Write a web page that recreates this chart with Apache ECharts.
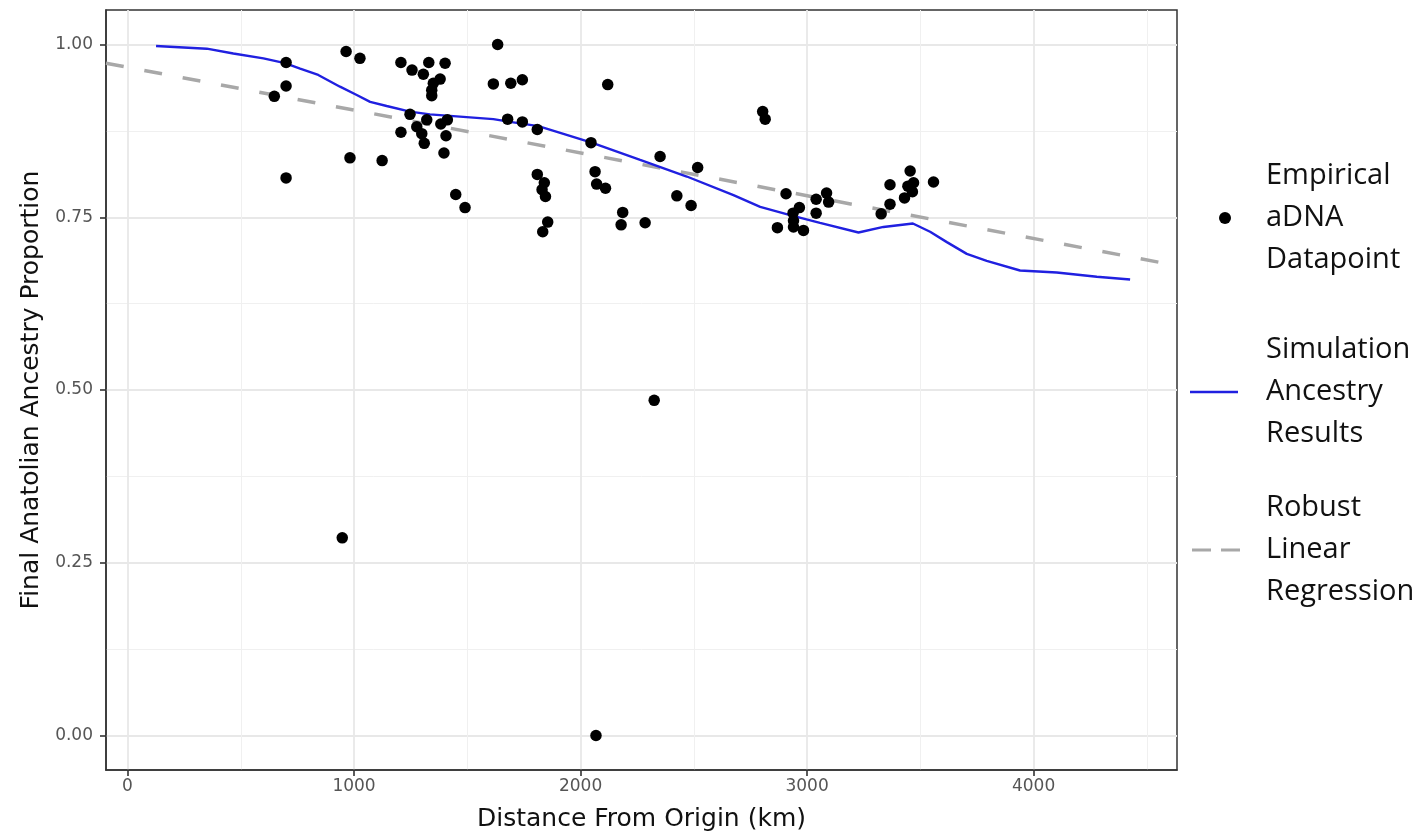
<!DOCTYPE html>
<html>
<head>
<meta charset="utf-8">
<script src="https://cdn.jsdelivr.net/npm/echarts@6/dist/echarts.min.js"></script>
<style>
html,body{margin:0;padding:0;background:#fff;}
#chart{width:1418px;height:831px;}
</style>
</head>
<body>
<div id="chart"></div>
<script>
// ---- data ----
const pointX = [648,700,700,700,948,965,982,1026,1124,1207,1207,1247,1256,1277,1299,1306,1310,1321,1330,1350,1343,1343,1380,1383,1402,1412,1406,1397,1449,1490,1615,1634,1678,1692,1743,1743,1809,1809,1840,1830,1845,1855,1833,2046,2064,2071,2110,2120,2068,2179,2186,2285,2325,2351,2425,2488,2517,2804,2815,2869,2907,2938,2940,2940,2966,2984,3040,3040,3086,3095,3327,3366,3366,3430,3455,3445,3470,3465,3558];
const pointY = [0.925,0.974,0.940,0.807,0.286,0.990,0.836,0.980,0.832,0.974,0.873,0.899,0.963,0.881,0.871,0.957,0.857,0.891,0.974,0.944,0.934,0.926,0.950,0.885,0.973,0.891,0.868,0.843,0.783,0.764,0.943,1.000,0.892,0.944,0.949,0.888,0.877,0.812,0.800,0.790,0.780,0.743,0.729,0.858,0.816,0.798,0.792,0.942,0.000,0.739,0.757,0.742,0.485,0.838,0.781,0.767,0.822,0.903,0.892,0.735,0.784,0.756,0.745,0.736,0.764,0.731,0.776,0.756,0.785,0.772,0.755,0.797,0.769,0.778,0.817,0.795,0.800,0.787,0.801];

const simX = [126,350,467,600,695,762,842,938,1012,1071,1144,1247,1335,1497,1615,1689,1814,2049,2263,2469,2675,2793,2925,3057,3227,3337,3467,3543,3617,3705,3793,3940,4102,4279,4426];
const simY = [0.998,0.994,0.987,0.980,0.973,0.965,0.956,0.939,0.927,0.917,0.911,0.903,0.899,0.895,0.892,0.888,0.882,0.858,0.833,0.809,0.782,0.765,0.753,0.742,0.728,0.736,0.741,0.729,0.714,0.697,0.687,0.673,0.670,0.664,0.660];

const regX = [-95, 4633];
const regY = [0.973, 0.680];

const xMajor = [0,1000,2000,3000,4000];
const xMinor = [500,1500,2500,3500,4500];
const yMajor = [0,0.25,0.5,0.75,1];
const yMinor = [0.125,0.375,0.625,0.875];

const xLimits = [-95, 4633];
const yLimits = [-0.05, 1.05];

const names = ['Empirical\naDNA\nDatapoint','Simulation\nAncestry\nResults','Robust\nLinear\nRegression'];
// --------------------------------------

const zip = (a,b) => a.map((v,i)=>[v,b[i]]);
const chart = echarts.init(document.getElementById('chart'), null, {renderer:'canvas'});
const tickFont = {color:'#555', fontSize:17, fontFamily:'DejaVu Sans'};
const titleFont = {color:'#111', fontSize:25, fontFamily:'DejaVu Sans'};
const majorLine = {show:true, lineStyle:{color:'#e8e8e8', width:1.8}};
const minorLine = {show:true, lineStyle:{color:'#f0f0f0', width:1}};
const legendText = {fontFamily:'Open Sans', fontSize:29, color:'#111', lineHeight:42};
const tickLine = {color:'#333', width:1.6};
const axLine = {show:true, onZero:false, lineStyle:{color:'#333', width:1.5}};

chart.setOption({
  animation:false,
  backgroundColor:'#fff',
  grid:{left:106, right:241, top:10, bottom:61, show:true, borderColor:'#333', borderWidth:1.5, backgroundColor:'transparent',
        containLabel:false, outerBoundsMode:'none'},
  xAxis:[
    {type:'value', min:xLimits[0], max:xLimits[1], position:'bottom',
     name:'Distance From Origin (km)', nameLocation:'middle', nameGap:37, nameTextStyle:titleFont,
     axisLine:axLine, axisTick:{show:true, inside:false, length:6, customValues:xMajor, lineStyle:tickLine},
     axisLabel:{customValues:xMajor, margin:8, formatter:v=>String(v), ...tickFont}, splitLine:majorLine},
    {type:'value', min:xLimits[0], max:xLimits[1], position:'bottom',
     axisLine:{show:false, onZero:false}, axisTick:{show:false, customValues:xMinor}, axisLabel:{show:false, customValues:xMinor}, splitLine:minorLine}
  ],
  yAxis:[
    {type:'value', min:yLimits[0], max:yLimits[1], position:'left',
     name:'Final Anatolian Ancestry Proportion', nameLocation:'middle', nameGap:61, nameTextStyle:titleFont,
     axisLine:axLine, axisTick:{show:true, inside:false, length:6, customValues:yMajor, lineStyle:tickLine},
     axisLabel:{customValues:yMajor, margin:13, formatter:v=>v.toFixed(2), ...tickFont}, splitLine:majorLine},
    {type:'value', min:yLimits[0], max:yLimits[1], position:'left',
     axisLine:{show:false, onZero:false}, axisTick:{show:false, customValues:yMinor}, axisLabel:{show:false, customValues:yMinor}, splitLine:minorLine}
  ],
  legend:[
    {data:[names[0]], orient:'vertical', left:1219, top:155, padding:0, itemWidth:12, itemHeight:12, icon:'circle',
     itemStyle:{color:'#000'}, textStyle:{...legendText, padding:[0,0,0,30]}},
    {data:[names[1]], orient:'vertical', left:1190, top:329, padding:0, itemWidth:48, itemHeight:2.5,
     icon:'path://M0,0h48v2.5h-48z', itemStyle:{color:'#2020e0'}, textStyle:{...legendText, padding:[0,0,0,23]}},
    {data:[names[2]], orient:'vertical', left:1192, top:487, padding:0, itemWidth:48, itemHeight:3,
     icon:'path://M0,0h19v3h-19zM29,0h19v3h-19z', itemStyle:{color:'#a8a8a8'}, textStyle:{...legendText, padding:[0,0,0,21]}}
  ],
  series:[
    {name:names[2], type:'line', xAxisIndex:0, yAxisIndex:0, data:zip(regX,regY), showSymbol:false, symbol:'none',
     lineStyle:{color:'#a8a8a8', width:3.5, type:[18,21]}, itemStyle:{color:'#a8a8a8'}, z:2, silent:true},
    {name:names[1], type:'line', xAxisIndex:0, yAxisIndex:0, data:zip(simX,simY), showSymbol:false, symbol:'none',
     lineStyle:{color:'#2020e0', width:2.4}, itemStyle:{color:'#2020e0'}, z:3, silent:true},
    {name:names[0], type:'scatter', xAxisIndex:0, yAxisIndex:0, data:zip(pointX,pointY), symbolSize:11.5,
     itemStyle:{color:'#000', opacity:1}, z:4, silent:true}
  ]
});
</script>
</body>
</html>
